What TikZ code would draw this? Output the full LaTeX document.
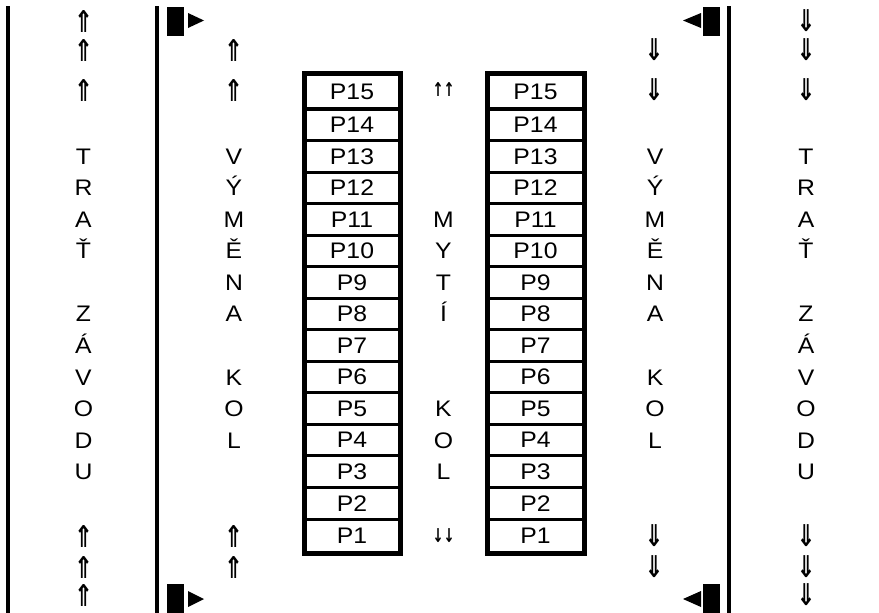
\documentclass[tikz,border=0pt]{standalone}
\usepackage{fontspec}
\setmainfont{Liberation Sans}[FakeStretch=1.1]
\newfontfamily\arrowfont{DejaVu Sans}
\begin{document}
\begin{tikzpicture}[x=1pt,y=-1pt,
  txt/.style={font=\fontsize{22.5}{22.5}\selectfont},
  pbox/.style={txt, draw, line width=3pt, inner sep=0pt},
  lbox/.style={pbox, minimum width=94pt},
  rbox/.style={pbox, minimum width=95pt},
  frame/.style={draw, line width=4pt},
  lett/.style={txt, anchor=base, inner sep=0pt},
  dbl/.style={inner sep=0pt},
  rail/.style={line width=3.8pt},
  tiny/.style={inner sep=0pt}
]
\useasboundingbox (0,0) rectangle (879,613);
\newcommand{\upA}{\resizebox*{19pt}{22pt}{\arrowfont\bfseries ⇑}}
\newcommand{\dnA}{\resizebox*{19pt}{22pt}{\arrowfont\bfseries ⇓}}
\newcommand{\upS}{\resizebox*{11pt}{14pt}{\arrowfont\bfseries ↑}}
\newcommand{\dnS}{\resizebox*{11pt}{14pt}{\arrowfont\bfseries ↓}}
% rails
\draw[rail] (7.7,6) -- (7.7,613);
\draw[rail] (157,6) -- (157,613);
\draw[rail] (729,6) -- (729,613);
% boxes
\node[lbox, minimum height=33pt] (L1) at (352,535.75) {P1};
\node[rbox, minimum height=33pt] (R1) at (535.5,535.75) {P1};
\node[lbox, minimum height=34.5pt] (L15) at (352,91.75) {P15};
\node[rbox, minimum height=34.5pt] (R15) at (535.5,91.75) {P15};
\foreach \k in {2,...,14}{
  \pgfmathsetmacro\yc{519-(\k-1.5)*31.54}
  \node[lbox, minimum height=31.54pt] (L\k) at (352,\yc) {P\k};
  \node[rbox, minimum height=31.54pt] (R\k) at (535.5,\yc) {P\k};
}
\draw[frame] (L15.north west) rectangle (L1.south east);
\draw[frame] (R15.north west) rectangle (R1.south east);
% vertical words
\foreach \t/\k in {T/13,R/12,A/11,Ť/10,Z/8,Á/7,V/6,O/5,D/4,U/3}{
  \pgfmathsetmacro\yb{519-(\k-1.5)*31.54+8}
  \node[lett] (tl\k) at (83.5,\yb) {\t};
  \node[lett] (tr\k) at (806,\yb) {\t};
}
\foreach \t/\k in {V/13,Ý/12,M/11,Ě/10,N/9,A/8,K/6,O/5,L/4}{
  \pgfmathsetmacro\yb{519-(\k-1.5)*31.54+8}
  \node[lett] (vl\k) at (234,\yb) {\t};
  \node[lett] (vr\k) at (655,\yb) {\t};
}
\foreach \t/\k in {M/11,Y/10,T/9,Í/8,K/5,O/4,L/3}{
  \pgfmathsetmacro\yb{519-(\k-1.5)*31.54+8}
  \node[lett] (m\k) at (443.5,\yb) {\t};
}
% small arrows
\node[tiny] (uu) at (443.5,89) {\upS\upS};
\node[tiny] (dd) at (443.5,536) {\dnS\dnS};
% double arrows
\foreach \y [count=\i] in {21,50,90,536,567,595}{
  \node[dbl] (ua\i) at (83.5,\y) {\upA};
  \node[dbl] (db\i) at (806,\y) {\dnA};
}
\foreach \y [count=\i] in {50,90,536,567}{
  \node[dbl] (uc\i) at (233.5,\y) {\upA};
  \node[dbl] (dc\i) at (654,\y) {\dnA};
}
% flags
\fill (167,7) rectangle (184,36);
\fill (188,13) -- (204,20.5) -- (188,28) -- cycle;
\fill (703,7) rectangle (720,36);
\fill (701,13) -- (683,20.5) -- (701,28) -- cycle;
\fill (167,584) rectangle (184,613);
\fill (188,591) -- (204,599) -- (188,607) -- cycle;
\fill (703,584) rectangle (720,613);
\fill (701,591) -- (683,599) -- (701,607) -- cycle;
\end{tikzpicture}
\end{document}
